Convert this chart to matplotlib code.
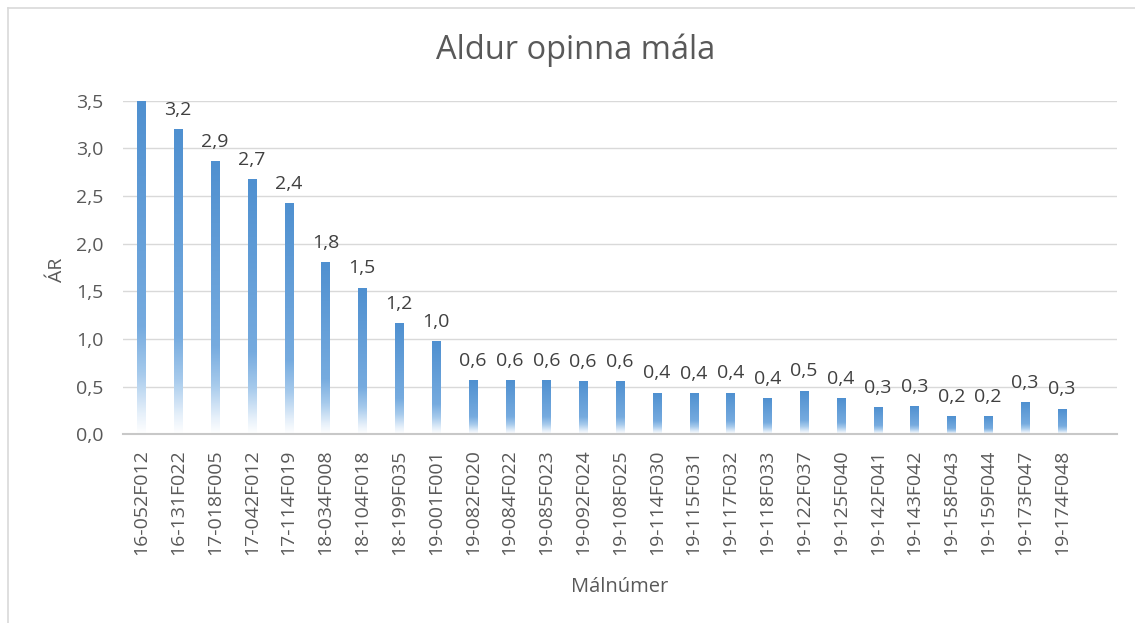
import matplotlib
matplotlib.use("Agg")
import matplotlib.pyplot as plt
import numpy as np
from matplotlib.colors import LinearSegmentedColormap
from matplotlib.lines import Line2D

plt.rcParams['font.family'] = ['Open Sans', 'DejaVu Sans']

categories = ["16-052F012", "16-131F022", "17-018F005", "17-042F012", "17-114F019",
              "18-034F008", "18-104F018", "18-199F035", "19-001F001", "19-082F020",
              "19-084F022", "19-085F023", "19-092F024", "19-108F025", "19-114F030",
              "19-115F031", "19-117F032", "19-118F033", "19-122F037", "19-125F040",
              "19-142F041", "19-143F042", "19-158F043", "19-159F044", "19-173F047",
              "19-174F048"]
values = [3.50, 3.19, 2.86, 2.67, 2.42, 1.80, 1.53, 1.16, 0.97, 0.56,
          0.56, 0.56, 0.55, 0.55, 0.43, 0.42, 0.43, 0.37, 0.45, 0.37,
          0.28, 0.29, 0.18, 0.18, 0.33, 0.26]
yticks = [0.0, 0.5, 1.0, 1.5, 2.0, 2.5, 3.0, 3.5]

title = "Aldur opinna mála"
ylabel = "ÁR"
xlabel = "Málnúmer"

W, H = 1135, 623
fig = plt.figure(figsize=(W / 100, H / 100), dpi=100)
ax = fig.add_axes([123 / W, 1 - 434.3 / H, (1117 - 123) / W, (434.3 - 100.7) / H])

txt = "#595959"
ymax = 3.5
x = np.arange(len(categories))
bw = 0.22
bars = ax.bar(x, values, width=bw, facecolor="none", edgecolor="none", zorder=3)

cmap = LinearSegmentedColormap.from_list(
    "grad",
    [(0.0, "#ffffff"), (0.06, "#e6f0fa"), (0.18, "#a6caec"), (0.32, "#76abdf"), (1.0, "#4f90d0")])
grad = np.linspace(0, 1, 256).reshape(-1, 1)
for b in bars:
    x0 = b.get_x()
    h = b.get_height()
    ax.imshow(grad, cmap=cmap, origin="lower", aspect="auto",
              extent=[x0, x0 + b.get_width(), 0, h], zorder=3, interpolation="bilinear")

for xi, v in zip(x, values):
    if v < ymax:
        lbl = f"{v:.1f}".replace(".", ",")
        ax.annotate(lbl, (xi, v), xytext=(0, 8), textcoords="offset points",
                    ha="center", va="bottom", fontsize=14, color="#404040", zorder=4)

ax.set_xlim(-0.5, len(categories) + 0.5)
ax.set_ylim(0, ymax)
ax.set_yticks(yticks)
ax.set_yticklabels([f"{t:.1f}".replace(".", ",") for t in yticks], fontsize=14, color=txt)
ax.set_xticks(x)
ax.set_xticklabels(categories, rotation=90, fontsize=14, color=txt)
ax.tick_params(axis="both", length=0)
ax.tick_params(axis="y", pad=14)
ax.tick_params(axis="x", pad=11)
ax.grid(axis="y", color="#d9d9d9", linewidth=1.0, zorder=0)
ax.set_axisbelow(True)
for s in ["top", "right", "left"]:
    ax.spines[s].set_visible(False)
ax.spines["bottom"].set_color("#c8c8c8")
ax.spines["bottom"].set_linewidth(1.5)
ax.spines["bottom"].set_zorder(5)

fig.text(576 / W, 1 - 50 / H, title, ha="center", va="center", fontsize=23.5, color=txt)
fig.text(57 / W, 1 - 270 / H, ylabel, ha="center", va="center", rotation=90, fontsize=14, color=txt)
fig.text(620 / W, 1 - 587 / H, xlabel, ha="center", va="center", fontsize=14.5, color=txt)

# chart border
fig.add_artist(Line2D([8 / W, 8 / W], [0, 1 - 8 / H], transform=fig.transFigure, color="#d9d9d9", linewidth=1.2))
fig.add_artist(Line2D([8 / W, 1], [1 - 8 / H, 1 - 8 / H], transform=fig.transFigure, color="#d9d9d9", linewidth=1.2))

fig.savefig("out.png", dpi=100, facecolor="white")
